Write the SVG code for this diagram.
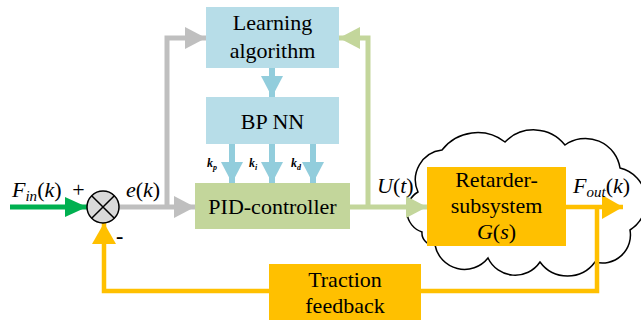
<svg xmlns="http://www.w3.org/2000/svg" width="641" height="320" viewBox="0 0 641 320">
<defs>
<marker id="aGray" markerUnits="userSpaceOnUse" markerWidth="21" markerHeight="22" refX="21" refY="11" orient="auto" viewBox="0 0 21 22"><path d="M0,0 L21,11 L0,22z" fill="#bfbfbf"/></marker>
<marker id="aLG" markerUnits="userSpaceOnUse" markerWidth="21" markerHeight="22" refX="21" refY="11" orient="auto" viewBox="0 0 21 22"><path d="M0,0 L21,11 L0,22z" fill="#c3d69b"/></marker>
<marker id="aBlue" markerUnits="userSpaceOnUse" markerWidth="21" markerHeight="22" refX="21" refY="11" orient="auto" viewBox="0 0 21 22"><path d="M0,0 L21,11 L0,22z" fill="#92cddc"/></marker>
<marker id="aOrg" markerUnits="userSpaceOnUse" markerWidth="21" markerHeight="24" refX="21" refY="12" orient="auto" viewBox="0 0 21 24"><path d="M0,0 L21,12 L0,24z" fill="#ffc000"/></marker>
<marker id="aGreen" markerUnits="userSpaceOnUse" markerWidth="22" markerHeight="20" refX="22" refY="10" orient="auto" viewBox="0 0 22 20"><path d="M0,0 L22,10 L0,20z" fill="#00b050"/></marker>
</defs>
<rect width="641" height="320" fill="#fff"/>
<g id="cloud">
<path d="M422,232 A22,22 0 0 1 418,192 A30,30 0 0 1 442,150 A45,45 0 0 1 505,142 A40,40 0 0 1 565,145 A35,35 0 0 1 620,168 A34,34 0 0 1 630,230 A28,28 0 0 1 595,262 A34,34 0 0 1 540,262 A30,30 0 0 1 488,258 A30,30 0 0 1 435,245 A12,12 0 0 1 422,232 Z" fill="none" stroke="#000" stroke-width="1.5"/>
</g>
<g id="connectors" fill="none">
<path d="M10,207 H87" stroke="#00b050" stroke-width="5" marker-end="url(#aGreen)"/>
<path d="M119,207 H195" stroke="#bfbfbf" stroke-width="5" marker-end="url(#aGray)"/>
<path d="M167,209 V38 H206" stroke="#bfbfbf" stroke-width="5" marker-end="url(#aGray)"/>
<path d="M350,207 H427" stroke="#c3d69b" stroke-width="5" marker-end="url(#aLG)"/>
<path d="M368,209 V38 H339" stroke="#c3d69b" stroke-width="5" marker-end="url(#aLG)"/>
<path d="M272,68 V97" stroke="#92cddc" stroke-width="6" marker-end="url(#aBlue)"/>
<path d="M232,144 V183" stroke="#92cddc" stroke-width="6" marker-end="url(#aBlue)"/>
<path d="M272,144 V183" stroke="#92cddc" stroke-width="6" marker-end="url(#aBlue)"/>
<path d="M313,144 V183" stroke="#92cddc" stroke-width="6" marker-end="url(#aBlue)"/>
<path d="M566,207 H623" stroke="#ffc000" stroke-width="4.5" marker-end="url(#aOrg)"/>
<path d="M597,205 V291 H104 V223" stroke="#ffc000" stroke-width="4.5" marker-end="url(#aOrg)"/>
</g>
<g id="sum">
<circle cx="103" cy="207" r="16" fill="#d9d9d9" stroke="#000" stroke-width="1.5"/>
<path d="M91.7,195.7 L114.3,218.3 M114.3,195.7 L91.7,218.3" stroke="#000" stroke-width="1.5"/>
<text x="78.5" y="197" text-anchor="middle" font-family="Times New Roman, Liberation Serif, serif" font-size="22">+</text>
<text x="116" y="243" font-family="Times New Roman, Liberation Serif, serif" font-size="22" font-weight="bold">-</text>
</g>
<g id="learning">
<rect fill="#b7dde8" x="206" y="7" width="133" height="61"/>
<text x="272.5" y="30" text-anchor="middle" font-family="Times New Roman, Liberation Serif, serif" font-size="22">Learning</text>
<text x="272.5" y="58" text-anchor="middle" font-family="Times New Roman, Liberation Serif, serif" font-size="22">algorithm</text>
</g>
<g id="bpnn">
<rect fill="#b7dde8" x="206" y="97" width="133" height="47"/>
<text x="272.5" y="129" text-anchor="middle" font-family="Times New Roman, Liberation Serif, serif" font-size="22">BP NN</text>
</g>
<g id="gains">
<text x="207" y="167" font-family="Times New Roman, Liberation Serif, serif" font-size="12" font-weight="bold" font-style="italic">k<tspan font-size="8" dy="3">p</tspan></text>
<text x="249" y="167" font-family="Times New Roman, Liberation Serif, serif" font-size="12" font-weight="bold" font-style="italic">k<tspan font-size="8" dy="3">i</tspan></text>
<text x="291" y="167" font-family="Times New Roman, Liberation Serif, serif" font-size="12" font-weight="bold" font-style="italic">k<tspan font-size="8" dy="3">d</tspan></text>
</g>
<g id="pid">
<rect fill="#c3d69b" x="195" y="183" width="155" height="46"/>
<text x="272.5" y="214" text-anchor="middle" font-family="Times New Roman, Liberation Serif, serif" font-size="22">PID-controller</text>
</g>
<g id="retarder">
<rect fill="#ffc000" x="427" y="167" width="139" height="79"/>
<text x="496.5" y="187" text-anchor="middle" font-family="Times New Roman, Liberation Serif, serif" font-size="22">Retarder-</text>
<text x="496.5" y="213" text-anchor="middle" font-family="Times New Roman, Liberation Serif, serif" font-size="22">subsystem</text>
<text x="496.5" y="239" text-anchor="middle" font-family="Times New Roman, Liberation Serif, serif" font-size="22"><tspan font-style="italic">G</tspan>(<tspan font-style="italic">s</tspan>)</text>
</g>
<g id="traction">
<rect fill="#ffc000" x="269" y="264" width="152" height="56"/>
<text x="345" y="287" text-anchor="middle" font-family="Times New Roman, Liberation Serif, serif" font-size="22">Traction</text>
<text x="345" y="313" text-anchor="middle" font-family="Times New Roman, Liberation Serif, serif" font-size="22">feedback</text>
</g>
<g id="labels">
<text x="12" y="197" font-family="Times New Roman, Liberation Serif, serif" font-size="22"><tspan font-style="italic">F</tspan><tspan font-style="italic" font-size="15" dy="4">in</tspan><tspan dy="-4">(</tspan><tspan font-style="italic">k</tspan>)</text>
<text x="126" y="197" font-family="Times New Roman, Liberation Serif, serif" font-size="22"><tspan font-style="italic">e</tspan>(<tspan font-style="italic">k</tspan>)</text>
<text x="377" y="193" font-family="Times New Roman, Liberation Serif, serif" font-size="22"><tspan font-style="italic">U</tspan>(<tspan font-style="italic">t</tspan>)</text>
<text x="573" y="193" font-family="Times New Roman, Liberation Serif, serif" font-size="22"><tspan font-style="italic">F</tspan><tspan font-style="italic" font-size="15" dy="4">out</tspan><tspan dy="-4">(</tspan><tspan font-style="italic">k</tspan>)</text>
</g>
</svg>
